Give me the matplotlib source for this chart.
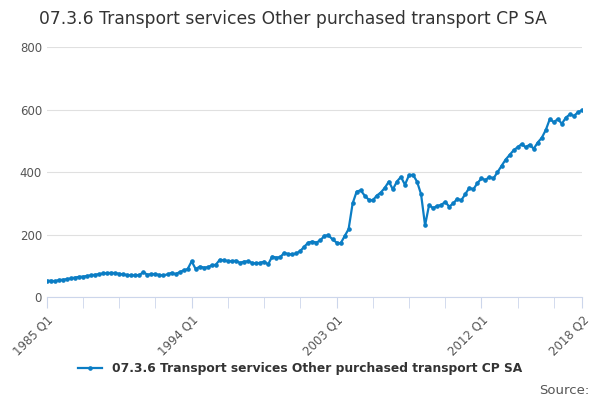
import matplotlib
matplotlib.use("Agg")
import matplotlib.pyplot as plt

values = [52,53,51,55,56,58,60,63,65,66,68,70,72,74,76,77,78,77,75,73,71,70,70,71,80,72,74,74,71,70,73,78,74,80,86,90,
          115,90,98,95,96,102,104,120,118,116,115,117,110,114,115,110,108,110,114,105,130,127,128,142,138,137,140,148,
          162,175,178,175,182,197,198,185,175,172,195,218,300,338,342,325,312,310,325,335,350,370,345,370,385,360,390,
          392,370,330,230,295,285,292,295,305,290,300,315,310,330,350,345,365,380,375,385,380,400,420,440,455,470,480,
          490,480,488,475,495,510,535,570,560,570,555,575,585,580,592,598]
tick_labels = ["1985 Q1", "1994 Q1", "2003 Q1", "2012 Q1", "2018 Q2"]
tick_pos = [0, 36, 72, 108, 133]
series_name = "07.3.6 Transport services Other purchased transport CP SA"
color = "#0b7dc4"

fig = plt.figure(figsize=(6, 4), dpi=100)
ax = fig.add_axes([0.078, 0.257, 0.892, 0.625])
x = list(range(len(values)))
ax.plot(x, values, color=color, lw=1.6, marker="o", ms=2.3, label=series_name)
ax.set_xlim(0, 133)
ax.set_ylim(0, 800)
ax.set_yticks([0, 200, 400, 600, 800])
ax.grid(axis="y", color="#e0e0e0", lw=0.8)
ax.set_axisbelow(True)
for s in ["top", "right", "left"]:
    ax.spines[s].set_visible(False)
ax.spines["bottom"].set_color("#ccd6eb")
ax.tick_params(axis="y", length=0, labelsize=8.5, labelcolor="#555555")
ax.set_xticks(list(range(0, 134, 9)) + [133], minor=True)
ax.set_xticks(tick_pos)
ax.set_xticklabels(tick_labels, rotation=45, ha="right", rotation_mode="anchor", fontsize=8.5, color="#555555")
ax.tick_params(axis="x", which="both", length=8, color="#ccd6eb")
fig.text(0.065, 0.94, "07.3.6 Transport services Other purchased transport CP SA", fontsize=12.3, color="#333333")
leg = fig.legend(loc="lower center", bbox_to_anchor=(0.5, 0.035), frameon=False,
                 prop={"weight": "bold", "size": 8.8}, handlelength=2.0)
for t in leg.get_texts():
    t.set_color("#333333")
fig.text(0.983, 0.015, "Source:", ha="right", fontsize=9.5, color="#555555")
fig.savefig("out.png")
